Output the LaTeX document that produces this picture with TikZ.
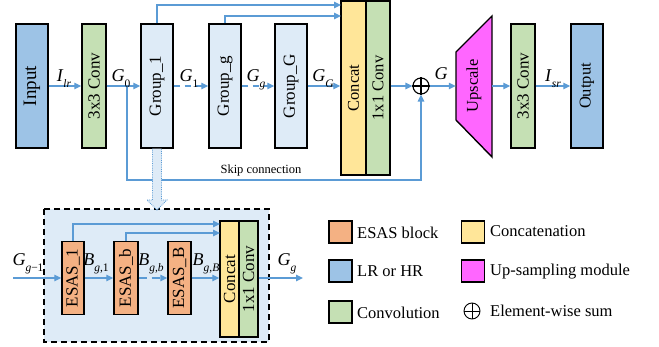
\documentclass[tikz,border=0pt]{standalone}
\usepackage{fontspec}
\setmainfont{Liberation Serif}
\usepackage{graphicx}
\usetikzlibrary{arrows.meta,calc}
\definecolor{inblue}{HTML}{9DC3E6}
\definecolor{cgreen}{HTML}{C5E0B4}
\definecolor{grp}{HTML}{DEEBF7}
\definecolor{cyel}{HTML}{FFE699}
\definecolor{mag}{HTML}{FF66FF}
\definecolor{esas}{HTML}{F4B183}
\definecolor{lineblue}{HTML}{5B9BD5}
\newcommand\sbs[2]{\textit{#1}\raisebox{-0.32em}{\fontsize{11.5}{11.5}\selectfont #2}}
\newcommand\rt[1]{\rotatebox{90}{#1}}
\begin{document}
\begin{tikzpicture}[x=1pt,y=-1pt,
  blk/.style={draw=black,line width=1.4pt,inner sep=0pt,font=\fontsize{17}{17}\selectfont},
  arr/.style={draw=lineblue,line width=1.3pt,-{Triangle[length=7pt,width=6.5pt]}},
  pln/.style={draw=lineblue,line width=1.3pt},
  dsh/.style={arr,dash pattern=on 6pt off 5pt},
  lbl/.style={font=\fontsize{18}{18}\selectfont,anchor=base,inner sep=0pt},
  sw/.style={draw=black,line width=1.4pt,minimum width=23pt,minimum height=22pt,inner sep=0pt},
  lg/.style={anchor=west,inner sep=0pt,font=\fontsize{16.5}{16.5}\selectfont},
  sumc/.style={circle,draw=black,line width=1.1pt,minimum size=16pt,inner sep=0pt}]
\useasboundingbox (0,0) rectangle (659,347);

% ---------- main pipeline ----------
\node[blk,fill=inblue,minimum width=32pt,minimum height=124pt,font=\fontsize{19}{19}\selectfont] (inp) at (32,86) {\rt{Input}};
\node[blk,fill=cgreen,minimum width=24pt,minimum height=124pt] (c1) at (94,86) {\rt{3x3 Conv}};
\node[blk,fill=grp,minimum width=32pt,minimum height=124pt] (g1) at (157,86) {\rt{Group\_1}};
\node[blk,fill=grp,minimum width=32pt,minimum height=124pt] (gg) at (225,86) {\rt{Group\_g}};
\node[blk,fill=grp,minimum width=32pt,minimum height=124pt] (gG) at (291,86) {\rt{Group\_G}};
\node[blk,fill=cyel,minimum width=25pt,minimum height=174pt,font=\fontsize{16.5}{16.5}\selectfont] (cat) at (353.5,88) {\rt{Concat}};
\node[blk,fill=cgreen,minimum width=24pt,minimum height=174pt,font=\fontsize{16.5}{16.5}\selectfont] (c11) at (378,88) {\rt{1x1 Conv}};
\node[sumc] (sum) at (421,86) {};
\draw[line width=1.1pt] (sum.north) -- (sum.south) (sum.west) -- (sum.east);
\filldraw[fill=mag,draw=black,line width=1.4pt] (456,52) -- (492,16) -- (492,157) -- (456,120) -- cycle;
\node[inner sep=0pt,minimum width=36pt,minimum height=68pt,font=\fontsize{16.5}{16.5}\selectfont] (up) at (474,86) {\rt{Upscale}};
\node[blk,fill=cgreen,minimum width=24pt,minimum height=124pt] (c2) at (523,86) {\rt{3x3 Conv}};
\node[blk,fill=inblue,minimum width=32pt,minimum height=124pt,font=\fontsize{16.5}{16.5}\selectfont] (out) at (587,86) {\rt{Output}};

\draw[arr] (inp.east) -- (c1.west);
\draw[arr] (c1.east) -- (g1.west);
\draw[dsh] (g1.east) -- (gg.west);
\draw[dsh] (gg.east) -- (gG.west);
\draw[arr] (gG.east) -- (gG.east -| cat.west);
\draw[arr] (c11.east |- sum) -- (sum.west);
\draw[arr] (sum.east) -- (up.west);
\draw[arr] (up.east) -- (c2.west);
\draw[arr] (c2.east) -- (out.west);

\coordinate (t1) at (341,5);
\coordinate (t2) at (341,16);
\draw[arr] (g1.north) |- (t1);
\draw[arr] (gg.north) |- (t2);

\coordinate (s0) at (127,86);
\coordinate (sb) at (127,180);
\draw[arr] (s0) -- (sb) -| (sum.south);
\node[inner sep=0pt,font=\fontsize{12.5}{12.5}\selectfont] (skl) at (261,170) {Skip connection};

\node[lbl] (llr) at (64,82) {\sbs{I}{\textit{lr}}};
\node[lbl] (l0) at (121,82) {\sbs{G}{0}};
\node[lbl] (l1) at (189,82) {\sbs{G}{1}};
\node[lbl] (lg) at (256,82) {\sbs{G}{\textit{g}}};
\node[lbl] (lG) at (323,82) {\sbs{G}{\textit{G}}};
\node[lbl] (lGG) at (441,80) {\textit{G}};
\node[lbl] (lsr) at (553,82) {\sbs{I}{\textit{sr}}};

% ---------- inset ----------
\draw[black,line width=1.4pt,fill=grp,dash pattern=on 6pt off 4pt] (44,209) rectangle (269,342);
\filldraw[fill=grp,draw=lineblue,line width=0.8pt,densely dotted]
  (152.5,148.7) -- (152.5,200) -- (147,200) -- (157,210) -- (167,200) -- (161.5,200) -- (161.5,148.7);

\node[blk,fill=esas,minimum width=22pt,minimum height=73pt] (e1) at (73,278) {\rt{ESAS\_1}};
\node[blk,fill=esas,minimum width=24pt,minimum height=73pt] (eb) at (126,278) {\rt{ESAS\_b}};
\node[blk,fill=esas,minimum width=23pt,minimum height=73pt] (eB) at (179.5,278) {\rt{ESAS\_B}};
\node[blk,fill=cyel,minimum width=19pt,minimum height=116pt] (ic) at (229.5,279) {\rt{Concat}};
\node[blk,fill=cgreen,minimum width=19pt,minimum height=116pt] (iv) at (248.5,279) {\rt{1x1 Conv}};

\coordinate (iin) at (13,278);
\coordinate (iout) at (303,278);
\draw[arr] (iin) -- (e1.west);
\draw[arr] (e1.east) -- (eb.west);
\draw[arr,dash pattern=on 8pt off 5pt] (eb.east) -- (eB.west);
\draw[arr] (eB.east) -- (eB.east -| ic.west);
\draw[arr] (iv.east |- iin) -- (iout);
\coordinate (u1) at (220,224);
\coordinate (u2) at (220,233);
\draw[arr] (e1.north) |- (u1);
\draw[arr] (eb.north) |- (u2);

\node[lbl] (lgm) at (28,266) {\sbs{G}{\textit{g}−1}};
\node[lbl] (lb1) at (96,266) {\sbs{B}{\textit{g},1}};
\node[lbl] (lbb) at (151,266) {\sbs{B}{\textit{g},\textit{b}}};
\node[lbl] (lbB) at (206,266) {\sbs{B}{\textit{g},\textit{B}}};
\node[lbl] (lgo) at (287,266) {\sbs{G}{\textit{g}}};

% ---------- legend ----------
\node[sw,fill=esas] (k1) at (340.5,232) {};
\node[lg] (k1t) at (357,233) {ESAS block};
\node[sw,fill=inblue] (k2) at (340.5,271) {};
\node[lg] (k2t) at (357,271) {LR or HR};
\node[sw,fill=cgreen] (k3) at (340.5,312) {};
\node[lg] (k3t) at (357,313) {Convolution};
\node[sw,fill=cyel] (k4) at (473,232) {};
\node[lg] (k4t) at (490,231) {Concatenation};
\node[sw,fill=mag] (k5) at (473,271) {};
\node[lg] (k5t) at (490,272) {Up-sampling module};
\node[sumc,line width=0.9pt] (k6) at (472,311) {};
\draw[line width=0.9pt] (k6.north) -- (k6.south) (k6.west) -- (k6.east);
\node[lg] (k6t) at (490,311) {Element-wise sum};
\end{tikzpicture}
\end{document}
